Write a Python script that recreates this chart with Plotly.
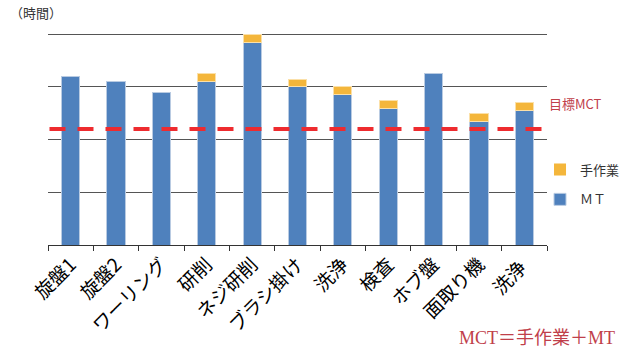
import plotly.graph_objects as go

# Process steps and times (hours)
categories = ["旋盤1", "旋盤2", "ワーリング", "研削", "ネジ研削", "ブラシ掛け",
              "洗浄", "検査", "ホブ盤", "面取り機", "洗浄 "]
mt_hours = [3.20, 3.10, 2.90, 3.10, 3.85, 3.00, 2.85, 2.60, 3.25, 2.35, 2.55]
manual_hours = [0, 0, 0, 0.15, 0.15, 0.15, 0.15, 0.15, 0, 0.15, 0.15]
target_mct = 2.2

JP = "Noto Sans CJK JP, sans-serif"
BLUE = "#4F81BD"
ORANGE = "#F4B63B"

fig = go.Figure()
fig.add_trace(go.Bar(
    x=categories, y=mt_hours, name="ＭＴ", legendgroup="mt", legendrank=2,
    marker=dict(color=BLUE, line=dict(color="#b9cbe2", width=1)),
))
fig.add_trace(go.Bar(
    x=categories, y=manual_hours, name="手作業", legendgroup="manual", legendrank=1,
    marker=dict(color=ORANGE,
                line=dict(color="#fbe0a8",
                          width=[1 if v > 0 else 0 for v in manual_hours])),
))

# Target MCT line
fig.add_shape(type="line", xref="paper", yref="y",
              x0=0.003, x1=1.012, y0=target_mct, y1=target_mct,
              line=dict(color="#EE2B2F", width=4, dash="16px,12px"))

fig.add_annotation(xref="paper", yref="y", x=1.001, y=target_mct + 0.49,
                   text="目標MCT", showarrow=False, xanchor="left", yanchor="middle",
                   font=dict(family=JP, size=13, color="#C0404A"))
fig.add_annotation(xref="paper", yref="paper", x=-0.08, y=1.075,
                   text="（時間）", showarrow=False, xanchor="left", yanchor="middle",
                   font=dict(family=JP, size=13, color="#333333"))
fig.add_annotation(xref="paper", yref="paper", x=1.14, y=-0.43,
                   text="MCT＝手作業＋MT", showarrow=False, xanchor="right",
                   yanchor="middle",
                   font=dict(family="Liberation Serif, Noto Sans CJK JP, serif",
                             size=18, color="#C0404A"))

fig.update_layout(
    barmode="stack",
    bargap=0.6,
    width=624, height=349,
    margin=dict(l=48, r=77, t=29, b=104, autoexpand=False),
    plot_bgcolor="white", paper_bgcolor="white",
    font=dict(family=JP, color="#000000"),
    showlegend=True,
    legend=dict(x=0.986, y=0.28, xanchor="left", yanchor="middle",
                traceorder="grouped", tracegroupgap=10,
                font=dict(family=JP, size=13, color="#333333"),
                itemwidth=30, bgcolor="rgba(0,0,0,0)"),
    xaxis=dict(showline=True, linecolor="#333333", linewidth=1,
               ticks="outside", tickson="boundaries", ticklen=5,
               tickcolor="#333333", tickangle=-45,
               tickfont=dict(family=JP, size=19, color="#000000"),
               showgrid=False),
    yaxis=dict(range=[0, 4.1], dtick=1, showticklabels=False,
               showgrid=True, gridcolor="#555555", gridwidth=1,
               zeroline=False, showline=False, ticks=""),
)

fig.write_html("out.html")
